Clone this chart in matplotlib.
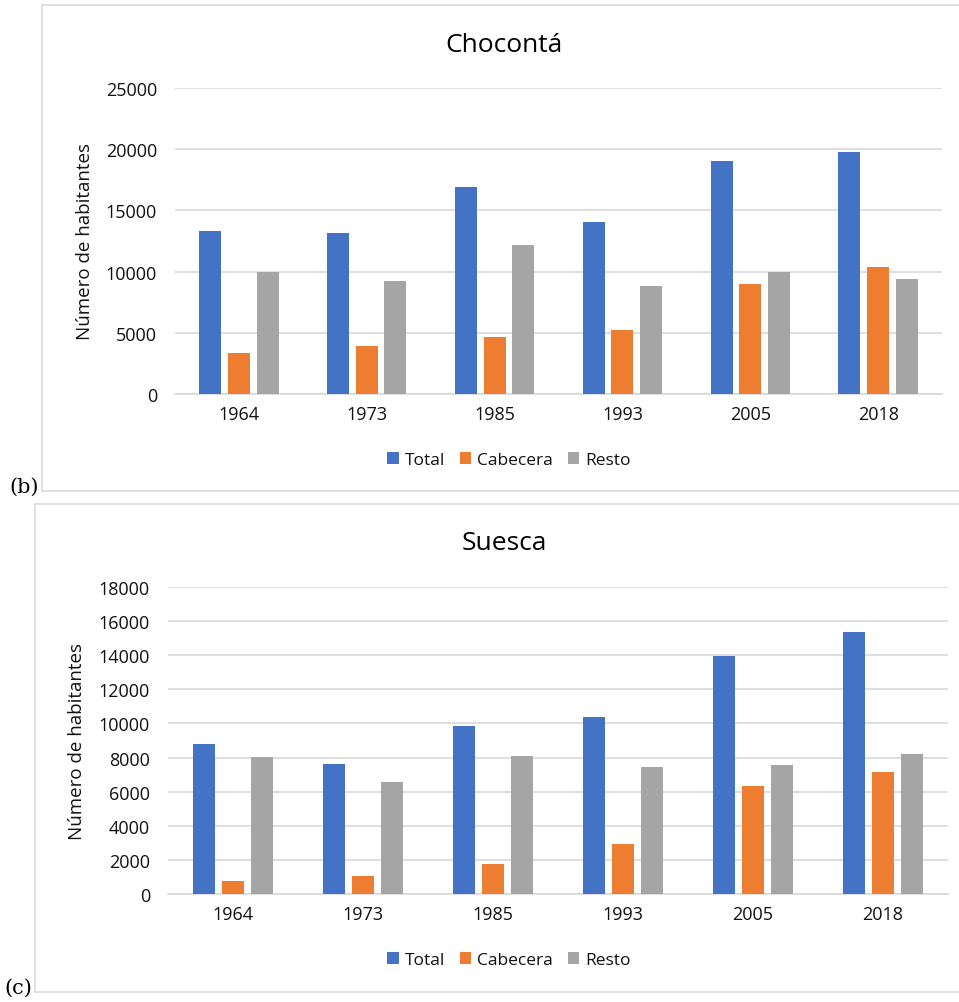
import matplotlib
matplotlib.use("Agg")
import matplotlib.pyplot as plt
from matplotlib.lines import Line2D
import numpy as np

plt.rcParams['font.family'] = ['Open Sans', 'DejaVu Sans']

years = ["1964", "1973", "1985", "1993", "2005", "2018"]
series_names = ["Total", "Cabecera", "Resto"]
colors = ["#4472C4", "#ED7D31", "#A5A5A5"]

# Chocontá population by census year
choconta_total = [13300, 13150, 16900, 14030, 19010, 19770]
choconta_cabecera = [3350, 3920, 4680, 5200, 8960, 10400]
choconta_resto = [9940, 9230, 12170, 8800, 9990, 9370]
choconta_ticks = [0, 5000, 10000, 15000, 20000, 25000]

# Suesca population by census year
suesca_total = [8800, 7630, 9840, 10400, 13970, 15380]
suesca_cabecera = [780, 1075, 1740, 2935, 6360, 7160]
suesca_resto = [8020, 6555, 8080, 7455, 7590, 8235]
suesca_ticks = [0, 2000, 4000, 6000, 8000, 10000, 12000, 14000, 16000, 18000]

W, H = 959, 1003
fig = plt.figure(figsize=(W / 100, H / 100), dpi=100)
fig.patch.set_facecolor("white")

GRID = "#d9d9d9"
TEXT = "#111111"


def px_axes(x0, x1, ytop, ybot):
    return fig.add_axes([x0 / W, 1 - ybot / H, (x1 - x0) / W, (ybot - ytop) / H])


def frame(x0, ytop, ybot):
    kw = dict(color=GRID, lw=1.2, transform=fig.transFigure)
    fig.add_artist(Line2D([x0 / W, x0 / W], [1 - ytop / H, 1 - ybot / H], **kw))
    fig.add_artist(Line2D([x0 / W, 1.0], [1 - ytop / H, 1 - ytop / H], **kw))
    fig.add_artist(Line2D([x0 / W, 1.0], [1 - ybot / H, 1 - ybot / H], **kw))


def draw_panel(ax, data, ticks, title, title_xy, legend_xy, tag, tag_xy, ylabel_xy):
    x = np.arange(len(years))
    width = 0.172
    step = 0.224
    for i, (vals, name, c) in enumerate(zip(data, series_names, colors)):
        ax.bar(x + (i - 1) * step, vals, width=width, color=c, label=name, zorder=3)
    ax.set_xlim(-0.5, len(years) - 0.5)
    ax.set_ylim(0, ticks[-1])
    ax.set_yticks(ticks)
    ax.set_yticklabels([str(t) for t in ticks], fontsize=13, color=TEXT)
    ax.set_xticks(x)
    ax.set_xticklabels(years, fontsize=13, color=TEXT)
    ax.tick_params(axis="both", length=0)
    ax.tick_params(axis="y", pad=13)
    ax.tick_params(axis="x", pad=8)
    ax.grid(axis="y", color=GRID, lw=1.2, zorder=0)
    ax.set_axisbelow(True)
    for s in ["top", "right", "left"]:
        ax.spines[s].set_visible(False)
    ax.spines["bottom"].set_color(GRID)
    ax.spines["bottom"].set_linewidth(1.2)
    fig.text(ylabel_xy[0] / W, 1 - ylabel_xy[1] / H, "Número de habitantes",
             fontsize=13.5, rotation=90, ha="center", va="center", color=TEXT)
    fig.text(title_xy[0] / W, 1 - title_xy[1] / H, title, fontsize=19,
             ha="center", va="center", color="#000000")
    handles, labels = ax.get_legend_handles_labels()
    fig.legend(handles, labels, loc="center",
               bbox_to_anchor=(legend_xy[0] / W, 1 - legend_xy[1] / H),
               ncol=3, frameon=False, fontsize=12.5, handlelength=0.65,
               handleheight=0.65, handletextpad=0.35, columnspacing=0.85,
               borderaxespad=0, labelcolor=TEXT)
    fig.text(tag_xy[0] / W, 1 - tag_xy[1] / H, tag, fontsize=15,
             family="DejaVu Serif", ha="left", va="center", color="#000000")


# Chocontá panel
frame(42, 6, 492)
ax1 = px_axes(175, 942, 89, 395)
draw_panel(ax1, [choconta_total, choconta_cabecera, choconta_resto], choconta_ticks,
           "Chocontá", (504, 45), (509, 461), "(b)", (9, 487), (85, 242))

# Suesca panel
frame(35, 505, 993)
ax2 = px_axes(168, 948, 588, 895)
draw_panel(ax2, [suesca_total, suesca_cabecera, suesca_resto], suesca_ticks,
           "Suesca", (504, 543), (509, 961), "(c)", (4, 988), (77, 742))

fig.savefig("out.png", dpi=100, facecolor="white")
